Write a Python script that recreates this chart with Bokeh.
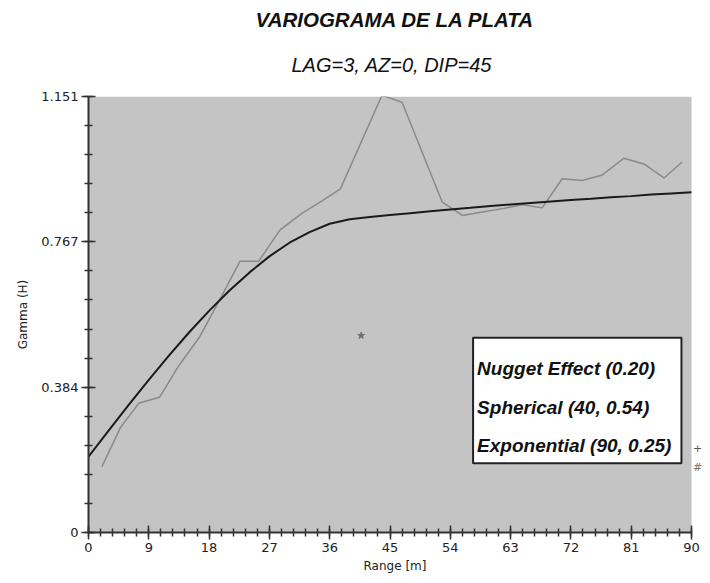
from bokeh.plotting import figure
from bokeh.models import FixedTicker, Label, BoxAnnotation, Range1d, Title
from bokeh.embed import file_html
from bokeh.resources import INLINE

# ---------------- data ----------------
title_text = "VARIOGRAMA DE LA PLATA"
subtitle_text = "LAG=3, AZ=0, DIP=45"
x_label = "Range [m]"
y_label = "Gamma (H)"

x_ticks = [0, 9, 18, 27, 36, 45, 54, 63, 72, 81, 90]
x_minor = [1.8 * i for i in range(51)]
y_ticks = [0, 0.384, 0.767, 1.151]
y_tick_labels = ["0", "0.384", "0.767", "1.151"]
y_minor = [1.151 * i / 15 for i in range(16)]

lag_m = [2.0, 4.8, 7.5, 10.6, 13.5, 16.5, 19.6, 22.6, 25.4, 28.6, 31.9, 34.8,
         37.6, 43.8, 46.8, 52.8, 55.8, 58.8, 61.8, 64.8, 67.7, 70.7, 73.7,
         76.7, 79.9, 82.9, 85.9, 88.6]
gamma_exp = [0.174, 0.278, 0.341, 0.357, 0.441, 0.514, 0.615, 0.716, 0.716,
             0.799, 0.843, 0.875, 0.907, 1.154, 1.136, 0.872, 0.837, 0.846,
             0.855, 0.865, 0.857, 0.934, 0.929, 0.944, 0.988, 0.973, 0.936,
             0.978]

# fitted model curve
model_h = [0, 3, 6, 9, 12, 15, 18, 21, 24, 27, 30, 33, 36, 39, 42, 45, 48, 51,
           54, 57, 60, 63, 66, 69, 72, 75, 78, 81, 84, 87, 90]
model_gamma = [0.200, 0.269, 0.337, 0.403, 0.467, 0.528, 0.585, 0.638, 0.686,
               0.729, 0.765, 0.793, 0.815, 0.827, 0.833, 0.838, 0.843, 0.848,
               0.853, 0.857, 0.862, 0.866, 0.870, 0.874, 0.878, 0.881, 0.885,
               0.888, 0.892, 0.895, 0.898]

star_x = [40.7]
star_y = [0.52]

legend_lines = ["Nugget Effect (0.20)", "Spherical (40, 0.54)", "Exponential (90, 0.25)"]

X_MAX = 90
Y_MAX = 1.151

# ---------------- figure ----------------
FRAME_W = 613  # frame a bit wider than the 0..90 data area (603 px)
p = figure(width=702, height=575,
           x_range=Range1d(0, X_MAX * FRAME_W / 603), y_range=Range1d(0, Y_MAX),
           output_backend="svg", toolbar_location=None, title=None,
           min_border_left=88, min_border_right=702 - 88 - FRAME_W,
           min_border_top=96, min_border_bottom=43)
p.background_fill_color = "white"
p.border_fill_color = "white"
p.outline_line_color = None
p.grid.visible = False

# gray plotting area only over the data range
p.add_layout(BoxAnnotation(left=0, right=X_MAX, bottom=0, top=Y_MAX,
                           fill_color="#c4c4c4", fill_alpha=1.0, line_color=None,
                           level="underlay"))

p.xaxis.ticker = FixedTicker(ticks=x_ticks, minor_ticks=x_minor)
p.yaxis.ticker = FixedTicker(ticks=y_ticks, minor_ticks=y_minor)
p.yaxis.major_label_overrides = {t: s for t, s in zip(y_ticks, y_tick_labels)}
p.xaxis.bounds = (0, X_MAX)
p.xaxis.axis_label = x_label
p.yaxis.axis_label = y_label

for ax in (p.xaxis[0], p.yaxis[0]):
    ax.axis_line_color = "#333333"
    ax.axis_line_width = 2
    ax.major_tick_line_color = "#333333"
    ax.major_tick_line_width = 1.5
    ax.major_tick_in = 7
    ax.major_tick_out = 7
    ax.minor_tick_line_color = "#333333"
    ax.minor_tick_line_width = 1.5
    ax.minor_tick_in = 4
    ax.minor_tick_out = 4
    ax.major_label_text_font = "DejaVu Sans"
    ax.major_label_text_font_size = "13px"
    ax.major_label_text_color = "#222222"
    ax.major_label_standoff = 3
    ax.axis_label_text_font = "DejaVu Sans"
    ax.axis_label_text_font_size = "12px"
    ax.axis_label_text_font_style = "normal"
    ax.axis_label_text_color = "#222222"
p.xaxis.axis_label_standoff = 4
p.yaxis.axis_label_standoff = 8

# data
p.line(lag_m, gamma_exp, line_color="#8a8a8a", line_width=1.5)
p.line(model_h, model_gamma, line_color="#1a1a1a", line_width=2)
p.scatter(star_x, star_y, marker="star", size=7, fill_color="#6e6e6e", line_color="#6e6e6e")

# titles (first added sits nearest the frame)
p.add_layout(Title(text=subtitle_text, text_font="Liberation Sans",
                   text_font_style="italic", text_font_size="20px", align="left",
                   text_color="#111111", standoff=42, offset=203), "above")
p.add_layout(Title(text=title_text, text_font="Liberation Sans",
                   text_font_style="bold italic", text_font_size="20.5px", align="left",
                   text_color="#111111", standoff=0, offset=167), "above")

# legend box
p.add_layout(BoxAnnotation(left=57.4, right=88.5, bottom=0.183, top=0.514,
                           fill_color="white", fill_alpha=1.0,
                           line_color="#222222", line_width=2, line_alpha=1.0))
for txt, yy in zip(legend_lines, [0.433, 0.330, 0.230]):
    p.add_layout(Label(x=58.0, y=yy, text=txt, text_font="Liberation Sans",
                       text_font_style="bold italic", text_font_size="19px",
                       text_baseline="alphabetic", text_color="#111111"))

p.add_layout(Label(x=90.9, y=0.224, text="+", text_font="DejaVu Sans",
                   text_font_size="11px", text_color="#555555",
                   text_align="center", text_baseline="middle"))
p.add_layout(Label(x=90.9, y=0.172, text="#", text_font="DejaVu Sans",
                   text_font_size="11px", text_color="#777777",
                   text_align="center", text_baseline="middle"))

open("out.html", "w").write(file_html(p, INLINE))
